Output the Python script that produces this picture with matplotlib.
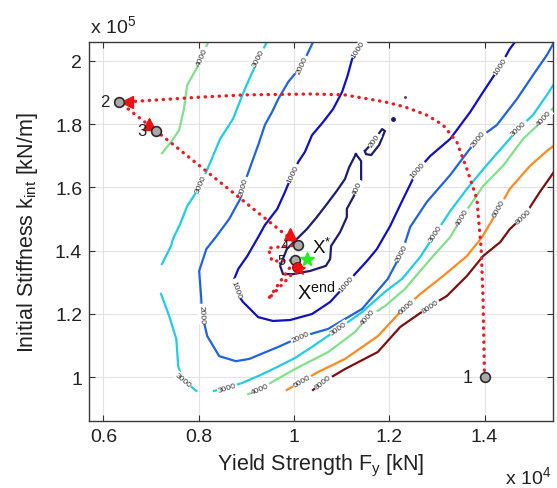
import numpy as np
import matplotlib
matplotlib.use('Agg')
import matplotlib.pyplot as plt

plt.rcParams['font.family'] = ['Liberation Sans', 'DejaVu Sans']
plt.rcParams['mathtext.fontset'] = 'custom'
plt.rcParams['mathtext.rm'] = 'Liberation Sans'
plt.rcParams['mathtext.default'] = 'regular'

# contour lines of the objective, Fy in 1e4 kN, k_int in 1e5 kN/m
fy_200 = [1.149, 1.164, 1.185, 1.191, 1.179, 1.162, 1.151, 1.149]
k_200 = [1.715, 1.740, 1.784, 1.778, 1.734, 1.702, 1.705, 1.715]

fy_400 = [1.130, 1.141, 1.141, 1.128, 1.111, 1.111, 1.097, 1.078, 1.076, 1.067, 1.034, 0.998,
          0.977, 0.971, 0.985, 1.006, 1.027, 1.048, 1.069, 1.090, 1.107, 1.116, 1.130]
k_400 = [1.705, 1.683, 1.620, 1.579, 1.532, 1.506, 1.459, 1.415, 1.374, 1.352, 1.336, 1.326,
         1.326, 1.352, 1.405, 1.437, 1.468, 1.506, 1.547, 1.589, 1.626, 1.664, 1.705]

fy_1000 = [1.145, 1.122, 1.113, 1.101, 1.082, 1.061, 1.038, 1.023, 1.009, 0.996, 0.981, 0.965,
           0.939, 0.925, 0.902, 0.883, 0.872, 0.881, 0.893, 0.925, 0.956, 0.992, 1.038, 1.076,
           1.101, 1.128, 1.153, 1.174, 1.202, 1.229, 1.258, 1.286, 1.328, 1.370, 1.397, 1.433,
           1.453, 1.464]
k_1000 = [2.059, 2.005, 1.955, 1.901, 1.847, 1.806, 1.765, 1.712, 1.680, 1.639, 1.585, 1.532,
          1.481, 1.443, 1.383, 1.342, 1.301, 1.263, 1.238, 1.190, 1.178, 1.181, 1.200, 1.238,
          1.279, 1.326, 1.367, 1.405, 1.478, 1.563, 1.652, 1.699, 1.753, 1.838, 1.901, 1.983,
          2.037, 2.059]

fy_2000 = [1.040, 1.017, 0.988, 0.967, 0.954, 0.939, 0.925, 0.912, 0.897, 0.887, 0.864, 0.836,
           0.816, 0.801, 0.805, 0.807, 0.818, 0.843, 0.878, 0.906, 0.967, 1.013, 1.072, 1.143,
           1.197, 1.227, 1.244, 1.279, 1.328, 1.369, 1.386, 1.426, 1.468, 1.502, 1.531, 1.550]
k_2000 = [2.059, 1.986, 1.933, 1.879, 1.838, 1.797, 1.734, 1.680, 1.617, 1.563, 1.500, 1.443,
          1.405, 1.336, 1.257, 1.200, 1.130, 1.067, 1.051, 1.058, 1.096, 1.127, 1.153, 1.216,
          1.311, 1.396, 1.475, 1.554, 1.639, 1.721, 1.753, 1.797, 1.879, 1.955, 2.018, 2.069]

fy_3000a = [0.943, 0.925, 0.897, 0.872, 0.845, 0.830, 0.803, 0.776, 0.761, 0.746, 0.742, 0.723]
k_3000a = [2.059, 2.005, 1.911, 1.816, 1.753, 1.699, 1.604, 1.541, 1.484, 1.437, 1.415, 1.358]
fy_3000b = [0.721, 0.738, 0.753, 0.757, 0.765, 0.795]
k_3000b = [1.263, 1.194, 1.121, 1.036, 0.995, 0.957]
fy_3000c = [0.832, 0.857, 0.891, 0.925, 0.960, 1.002, 1.038, 1.093, 1.143, 1.191, 1.227, 1.265,
            1.292, 1.328, 1.363, 1.405, 1.447, 1.468, 1.502, 1.531, 1.550]
k_3000c = [0.957, 0.966, 0.982, 1.004, 1.029, 1.061, 1.096, 1.153, 1.206, 1.270, 1.311, 1.380,
           1.443, 1.525, 1.595, 1.671, 1.743, 1.781, 1.829, 1.892, 1.936]

fy_4000a = [0.820, 0.797, 0.776, 0.769, 0.759, 0.742, 0.723]
k_4000a = [2.059, 1.980, 1.923, 1.847, 1.781, 1.743, 1.708]
fy_4000b = [0.904, 0.929, 0.954, 1.002, 1.072, 1.128, 1.155, 1.191, 1.233, 1.281, 1.328, 1.353,
            1.397, 1.439, 1.481, 1.510, 1.550]
k_4000b = [0.947, 0.963, 0.985, 1.026, 1.080, 1.143, 1.190, 1.225, 1.279, 1.364, 1.443, 1.506,
           1.604, 1.668, 1.753, 1.794, 1.860]

fy_6000 = [0.985, 1.017, 1.051, 1.107, 1.176, 1.223, 1.265, 1.313, 1.363, 1.395, 1.426, 1.453,
           1.495, 1.531, 1.550]
k_6000 = [0.960, 0.988, 1.017, 1.058, 1.130, 1.206, 1.263, 1.320, 1.383, 1.443, 1.522, 1.595,
          1.667, 1.715, 1.737]

fy_8000 = [1.040, 1.061, 1.107, 1.176, 1.223, 1.286, 1.321, 1.363, 1.397, 1.433, 1.453, 1.485,
           1.516, 1.550]
k_8000 = [0.960, 0.985, 1.026, 1.080, 1.159, 1.225, 1.257, 1.320, 1.383, 1.427, 1.468, 1.513,
          1.585, 1.658]

# where the inline contour labels sit
lab_fy_200, lab_k_200 = [1.164], [1.753]
lab_fy_400, lab_k_400 = [1.132], [1.601]
lab_fy_1000 = [1.135, 0.996, 0.878, 1.111, 1.258, 1.433]
lab_k_1000 = [2.037, 1.645, 1.279, 1.295, 1.658, 1.983]
lab_fy_2000 = [1.017, 0.897, 0.807, 1.013, 1.227, 1.386]
lab_k_2000 = [1.986, 1.601, 1.200, 1.127, 1.393, 1.753]
lab_fy_3000 = [0.933, 0.807, 0.765, 0.860, 1.093, 1.292, 1.470]
lab_k_3000 = [2.005, 1.611, 0.988, 0.966, 1.156, 1.459, 1.791]
lab_fy_4000 = [0.809, 0.929, 1.155, 1.353, 1.523]
lab_k_4000 = [2.012, 0.963, 1.190, 1.506, 1.822]
lab_fy_6000, lab_k_6000 = [1.017, 1.237, 1.433], [0.988, 1.225, 1.532]
lab_fy_8000, lab_k_8000 = [1.061, 1.286, 1.481], [0.985, 1.225, 1.509]

# optimisation path and iterates
path_fy = [1.400, 1.397, 1.393, 1.384, 1.363, 1.342, 1.313, 1.279, 1.233, 1.191, 1.107, 1.038,
           0.897, 0.803, 0.650, 0.633, 0.711, 1.009, 0.946, 0.954, 1.002, 0.946, 1.006]
path_k = [1.000, 1.247, 1.405, 1.563, 1.658, 1.743, 1.797, 1.828, 1.854, 1.870, 1.892, 1.895,
          1.892, 1.885, 1.870, 1.870, 1.778, 1.418, 1.408, 1.367, 1.370, 1.247, 1.342]
pt_fy = [1.400, 0.633, 0.711, 1.009, 1.002]
pt_k = [1.000, 1.870, 1.778, 1.418, 1.370]
pt_names = ['1', '2', '3', '4', '5']
arrow_fy = [0.650, 0.696, 0.992]
arrow_k = [1.870, 1.800, 1.453]
arrow_mk = ['<', '^', '^']
xstar_fy, xstar_k = 1.027, 1.374
xend_fy, xend_k = 1.007, 1.350
dots_fy = [1.208, 1.233]
dots_k = [1.816, 1.885]

fig = plt.figure(figsize=(5.57, 4.89), dpi=100)
ax = fig.add_axes([0.160, 0.137, 0.833, 0.775])
ax.set_xlim(0.570, 1.544)
ax.set_ylim(0.862, 2.059)

levels = [
    ('200', '#1c1c72', [(fy_200, k_200)], lab_fy_200, lab_k_200),
    ('400', '#1c1c72', [(fy_400, k_400)], lab_fy_400, lab_k_400),
    ('1000', '#1010c4', [(fy_1000, k_1000)], lab_fy_1000, lab_k_1000),
    ('2000', '#2062e0', [(fy_2000, k_2000)], lab_fy_2000, lab_k_2000),
    ('3000', '#22cbe6', [(fy_3000a, k_3000a), (fy_3000b, k_3000b), (fy_3000c, k_3000c)],
     lab_fy_3000, lab_k_3000),
    ('4000', '#82e08c', [(fy_4000a, k_4000a), (fy_4000b, k_4000b)], lab_fy_4000, lab_k_4000),
    ('6000', '#ff8a1e', [(fy_6000, k_6000)], lab_fy_6000, lab_k_6000),
    ('8000', '#7a1010', [(fy_8000, k_8000)], lab_fy_8000, lab_k_8000),
]


def put_label(segs, x0, y0, txt):
    # snap label onto nearest point of the line and rotate along it
    p0 = ax.transData.transform((x0, y0))
    best = None
    for fy, k in segs:
        pts = ax.transData.transform(np.column_stack([fy, k]))
        for a, b in zip(pts[:-1], pts[1:]):
            ab = b - a
            t = np.clip(np.dot(p0 - a, ab) / np.dot(ab, ab), 0, 1)
            q = a + t * ab
            d = np.hypot(*(q - p0))
            if best is None or d < best[0]:
                best = (d, q, ab)
    d, q, ab = best
    ang = np.degrees(np.arctan2(ab[1], ab[0]))
    if ang > 90:
        ang -= 180
    elif ang < -90:
        ang += 180
    xq, yq = ax.transData.inverted().transform(q)
    ax.text(xq, yq, txt, rotation=ang, rotation_mode='anchor', ha='center', va='center',
            fontsize=6, color='#303030', zorder=3,
            bbox=dict(boxstyle='square,pad=0.1', fc='white', ec='none'))


for txt, col, segs, lfy, lk in levels:
    for fy, k in segs:
        ax.plot(fy, k, color=col, lw=1.6, zorder=2)
    for x0, y0 in zip(lfy, lk):
        put_label(segs, x0, y0, txt)

ax.plot(dots_fy[:1], dots_k[:1], 'o', ms=2.5, color='#1c1c72', zorder=2)
ax.plot(dots_fy[1:], dots_k[1:], 'o', ms=1.2, color='#555555', zorder=2)

# red dotted search path
ax.plot(path_fy, path_k, color='#ec1c24', lw=2.4, ls=(0, (0.1, 2.0)),
        dash_capstyle='round', zorder=4)
for x, y, m in zip(arrow_fy, arrow_k, arrow_mk):
    ax.plot(x, y, m, ms=9, color='#ee1111', zorder=5)

ax.plot(pt_fy, pt_k, 'o', ms=7, mfc='#a9a9a9', mec='#2a2a2a', mew=1.2, zorder=6)
offs = [-8.5, -7, -7, -7, -6.5]
sizes = [13, 12, 12, 10.5, 10.5]
for x, y, s, o, fs in zip(pt_fy, pt_k, pt_names, offs, sizes):
    ax.annotate(s, (x, y), xytext=(o, 0), textcoords='offset points', ha='right',
                va='center', fontsize=fs, color='#222222', zorder=7)

ax.plot(xend_fy, xend_k, 'o', ms=7, mfc='#ee1111', mec='#aa0000', mew=0.8, zorder=7)
ax.plot(xend_fy + 0.003, xend_k - 0.008, '*', ms=9, color='#ee1111', zorder=7)
ax.plot(xstar_fy, xstar_k, '*', ms=10, color='#22ee22', zorder=7)

ax.text(1.038, 1.393, r'X$^{*}$', fontsize=13.5, va='baseline', ha='left', color='#111111', zorder=8)
ax.text(1.006, 1.247, r'X$^{end}$', fontsize=14.5, va='baseline', ha='left', color='#111111', zorder=8)

ax.set_xticks([0.6, 0.8, 1.0, 1.2, 1.4])
ax.set_xticklabels(['0.6', '0.8', '1', '1.2', '1.4'])
ax.set_yticks([1.0, 1.2, 1.4, 1.6, 1.8, 2.0])
ax.set_yticklabels(['1', '1.2', '1.4', '1.6', '1.8', '2'])
ax.tick_params(direction='in', top=True, right=True, length=4, width=0.8,
               color='#333333', labelcolor='#222222', labelsize=14, pad=5)
ax.grid(True, color='#e3e3e3', lw=0.8)
ax.set_axisbelow(True)
for sp in ax.spines.values():
    sp.set_color('#3a3a3a')
    sp.set_linewidth(1.0)

ax.set_xlabel(r'Yield Strength F$_y$ [kN]', fontsize=15.5, va='baseline', color='#222222')
ax.xaxis.set_label_coords(0.499, -0.129)
ax.set_ylabel(r'Initial Stiffness k$_{int}$ [kN/m]', fontsize=15.5, va='baseline', color='#222222')
ax.yaxis.set_label_coords(-0.121, 0.5)

fig.text(90 / 557, 1 - 33 / 489, r'x 10$^5$', fontsize=14, va='baseline', color='#222222')
fig.text(505 / 557, 0.010, r'x 10$^4$', fontsize=14, va='baseline', color='#222222')

fig.savefig('out.png', dpi=100)
